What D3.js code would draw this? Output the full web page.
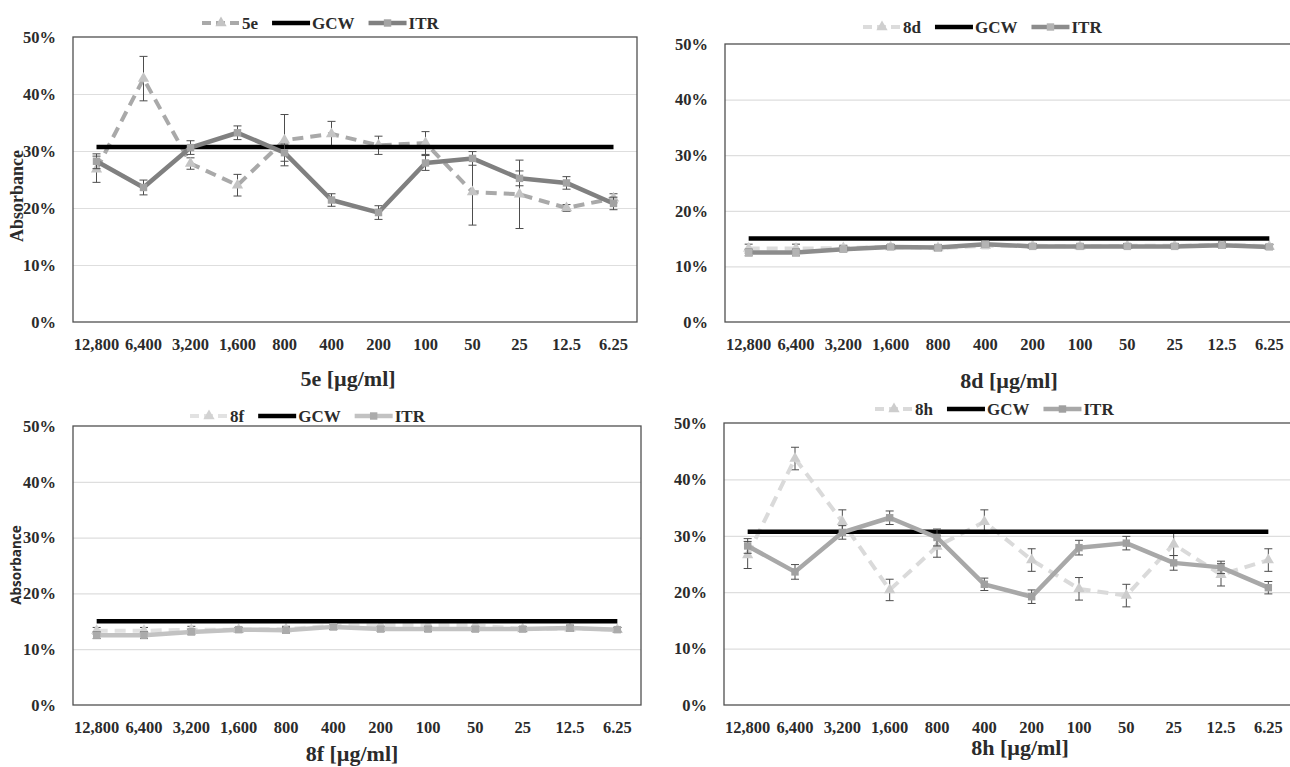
<!DOCTYPE html>
<html>
<head>
<meta charset="utf-8">
<script src="https://cdn.jsdelivr.net/npm/d3@7"></script>
<style>
  html, body { margin: 0; padding: 0; background: #fff; overflow: hidden; }
  svg { display: block; }
  text { font-family: "Liberation Serif", "DejaVu Serif", serif; font-weight: bold; fill: #2b2b2b; }
</style>
</head>
<body>
<div id="chart"></div>
<script>
// concentrations (µg/ml), shared by all four panels
const concs = ["12,800", "6,400", "3,200", "1,600", "800", "400", "200", "100", "50", "25", "12.5", "6.25"];
const yTicks = [0, 10, 20, 30, 40, 50];

// growth control (GCW) levels
const gcwHigh = 30.7;
const gcwLow = 15.0;

// ITR reference series (panels 5e / 8h and 8d / 8f)
const itrHigh    = [28.2, 23.6, 30.6, 33.2, 29.7, 21.4, 19.2, 27.9, 28.7, 25.2, 24.4, 20.8];
const itrHighErr = [1.3, 1.3, 1.2, 1.2, 1.5, 1.1, 1.2, 1.3, 1.2, 1.3, 1.1, 1.1];
const itrLow     = [12.5, 12.5, 13.1, 13.5, 13.4, 14.0, 13.6, 13.6, 13.6, 13.6, 13.8, 13.5];
const itrLowErr  = [0.6, 0.6, 0.5, 0.4, 0.5, 0.5, 0.4, 0.4, 0.4, 0.4, 0.5, 0.4];

// compounds
const c5e    = [26.8, 42.7, 27.8, 24.0, 31.9, 33.0, 31.0, 31.4, 22.8, 22.4, 20.0, 21.7];
const c5eErr = [2.3, 3.9, 1.0, 1.9, 4.5, 2.2, 1.6, 2.0, 5.8, 6.0, 0.6, 0.8];
const c8d    = [13.2, 13.2, 13.3, 13.5, 13.3, 13.7, 13.7, 13.6, 13.7, 13.7, 13.9, 13.6];
const c8dErr = [0.8, 0.8, 0.5, 0.4, 0.5, 0.5, 0.4, 0.4, 0.4, 0.4, 0.5, 0.4];
const c8f    = [13.3, 13.3, 13.5, 13.5, 13.6, 14.2, 14.3, 14.3, 14.3, 13.6, 13.7, 13.5];
const c8fErr = [0.6, 0.6, 0.6, 0.4, 0.5, 0.6, 0.5, 0.5, 0.5, 0.4, 0.4, 0.4];
const c8h    = [26.6, 43.7, 32.5, 20.4, 28.1, 32.5, 25.7, 20.6, 19.4, 28.5, 23.1, 25.7];
const c8hErr = [2.4, 2.0, 2.1, 1.9, 1.9, 2.1, 2.0, 2.0, 2.0, 2.0, 2.0, 2.0];

const W = 1290, H = 767;
const svg = d3.select("#chart").append("svg")
  .attr("width", W).attr("height", H)
  .attr("viewBox", [0, 0, W, H]);

const panels = [
  { name: "5e", cmp: c5e, cmpErr: c5eErr, itr: itrHigh, itrErr: itrHighErr, gcw: gcwHigh,
    box: { left: 73, right: 637, top: 37, bottom: 322 }, legendX: 202, legendY: 23,
    cmpColor: "#a9a9a9", cmpMark: "#c4c4c4", itrColor: "#808080", itrMark: "#a3a3a3",
    titleX: 348, titleY: 386, yTitle: "serif", yTitleY: 196 },
  { name: "8d", cmp: c8d, cmpErr: c8dErr, itr: itrLow, itrErr: itrLowErr, gcw: gcwLow,
    box: { left: 725, right: 1293, top: 44, bottom: 322 }, legendX: 863, legendY: 27,
    cmpColor: "#dcdcdc", cmpMark: "#cfcfcf", itrColor: "#8c8c8c", itrMark: "#b3b3b3",
    titleX: 1009, titleY: 388 },
  { name: "8f", cmp: c8f, cmpErr: c8fErr, itr: itrLow, itrErr: itrLowErr, gcw: gcwLow,
    box: { left: 73, right: 641, top: 426, bottom: 705 }, legendX: 190, legendY: 416,
    cmpColor: "#e2e2e2", cmpMark: "#d2d2d2", itrColor: "#c2c2c2", itrMark: "#ababab",
    titleX: 352, titleY: 761, yTitle: "sans", yTitleY: 565 },
  { name: "8h", cmp: c8h, cmpErr: c8hErr, itr: itrHigh, itrErr: itrHighErr, gcw: gcwHigh,
    box: { left: 724, right: 1292, top: 423, bottom: 705 }, legendX: 875, legendY: 409,
    cmpColor: "#dadada", cmpMark: "#cdcdcd", itrColor: "#a8a8a8", itrMark: "#a0a0a0",
    titleX: 1020, titleY: 755 }
];

const triangle = d3.symbol().type(d3.symbolTriangle).size(55);
const square = d3.symbol().type(d3.symbolSquare).size(55);

panels.forEach(p => {
  const b = p.box;
  const g = svg.append("g");

  const x = d3.scaleBand().domain(concs).range([b.left, b.right]).padding(0);
  const cx = c => x(c) + x.bandwidth() / 2;
  const y = d3.scaleLinear().domain([0, 50]).range([b.bottom, b.top]);

  // gridlines
  g.append("g")
    .attr("transform", `translate(${b.left},0)`)
    .call(d3.axisLeft(y).tickValues([10, 20, 30, 40]).tickSize(-(b.right - b.left)).tickFormat(""))
    .call(s => s.select(".domain").remove())
    .call(s => s.selectAll("line").attr("stroke", "#dedede").attr("stroke-width", 1.2));

  // frame
  g.append("rect")
    .attr("x", b.left).attr("y", b.top)
    .attr("width", b.right - b.left).attr("height", b.bottom - b.top)
    .attr("fill", "none").attr("stroke", "#505050").attr("stroke-width", 1.3);

  // y axis labels
  g.append("g")
    .attr("transform", `translate(${b.left - 17},0)`)
    .call(d3.axisLeft(y).tickValues(yTicks).tickSize(0).tickPadding(0).tickFormat(d => d + "%"))
    .call(s => s.select(".domain").remove())
    .call(s => s.selectAll("text")
      .style("font-family", "'Liberation Serif', serif").style("font-weight", "bold")
      .style("font-size", "16.5px").attr("fill", "#2b2b2b"));

  // x axis labels
  g.append("g")
    .attr("transform", `translate(0,${b.bottom + 16})`)
    .call(d3.axisBottom(x).tickSize(0).tickPadding(0))
    .call(s => s.select(".domain").remove())
    .call(s => s.selectAll("text")
      .style("font-family", "'Liberation Serif', serif").style("font-weight", "bold")
      .style("font-size", "16.5px").attr("fill", "#2b2b2b"));

  // x title
  g.append("text")
    .attr("x", p.titleX).attr("y", p.titleY)
    .attr("text-anchor", "middle")
    .style("font-size", "22px")
    .text(`${p.name} [µg/ml]`);

  // y title
  if (p.yTitle) {
    const t = g.append("text")
      .attr("transform", `translate(${p.yTitle === "serif" ? 23 : 21},${p.yTitleY}) rotate(-90)`)
      .attr("text-anchor", "middle")
      .text("Absorbance");
    if (p.yTitle === "serif") t.style("font-size", "18px");
    else t.style("font-family", "'Open Sans', sans-serif").style("font-size", "13.5px");
  }

  const line = d3.line().x((d, i) => cx(concs[i])).y(d => y(d));

  const errBars = (vals, errs) => {
    const eg = g.append("g").attr("stroke", "#4d4d4d").attr("stroke-width", 1);
    vals.forEach((v, i) => {
      const px = cx(concs[i]);
      eg.append("line").attr("x1", px).attr("x2", px).attr("y1", y(v - errs[i])).attr("y2", y(v + errs[i]));
      [v - errs[i], v + errs[i]].forEach(e =>
        eg.append("line").attr("x1", px - 4).attr("x2", px + 4).attr("y1", y(e)).attr("y2", y(e)));
    });
  };

  // compound series (dashed, triangles)
  errBars(p.cmp, p.cmpErr);
  g.append("path").datum(p.cmp)
    .attr("d", line).attr("fill", "none")
    .attr("stroke", p.cmpColor).attr("stroke-width", 4)
    .attr("stroke-dasharray", "11,7");
  g.selectAll(null).data(p.cmp).join("path")
    .attr("d", triangle)
    .attr("transform", (d, i) => `translate(${cx(concs[i])},${y(d)})`)
    .attr("fill", p.cmpMark);

  // GCW control
  g.append("line")
    .attr("x1", cx(concs[0])).attr("x2", cx(concs[concs.length - 1]))
    .attr("y1", y(p.gcw)).attr("y2", y(p.gcw))
    .attr("stroke", "#000").attr("stroke-width", 4.5);

  // ITR series (solid, squares)
  errBars(p.itr, p.itrErr);
  g.append("path").datum(p.itr)
    .attr("d", line).attr("fill", "none")
    .attr("stroke", p.itrColor).attr("stroke-width", 4.5)
    .attr("stroke-linejoin", "round");
  g.selectAll(null).data(p.itr).join("path")
    .attr("d", square)
    .attr("transform", (d, i) => `translate(${cx(concs[i])},${y(d)})`)
    .attr("fill", p.itrMark);

  // legend
  const items = [
    { label: p.name, color: p.cmpColor, mark: p.cmpMark, dash: "9,5", sym: triangle, w: 4 },
    { label: "GCW", color: "#000", mark: null, dash: null, sym: null, w: 4.5 },
    { label: "ITR", color: p.itrColor, mark: p.itrMark, dash: null, sym: square, w: 4.5 }
  ];
  let lx = p.legendX;
  const ly = p.legendY;
  items.forEach(it => {
    const lg = g.append("g");
    lg.append("line")
      .attr("x1", lx).attr("x2", lx + 38).attr("y1", ly).attr("y2", ly)
      .attr("stroke", it.color).attr("stroke-width", it.w)
      .attr("stroke-dasharray", it.dash);
    if (it.sym) {
      lg.append("path").attr("d", it.sym).attr("fill", it.mark)
        .attr("transform", `translate(${lx + 19},${ly})`);
    }
    const t = lg.append("text")
      .attr("x", lx + 40).attr("y", ly + 6)
      .style("font-size", "17px")
      .text(it.label);
    lx += 40 + t.node().getComputedTextLength() + 14;
  });
});
</script>
</body>
</html>
